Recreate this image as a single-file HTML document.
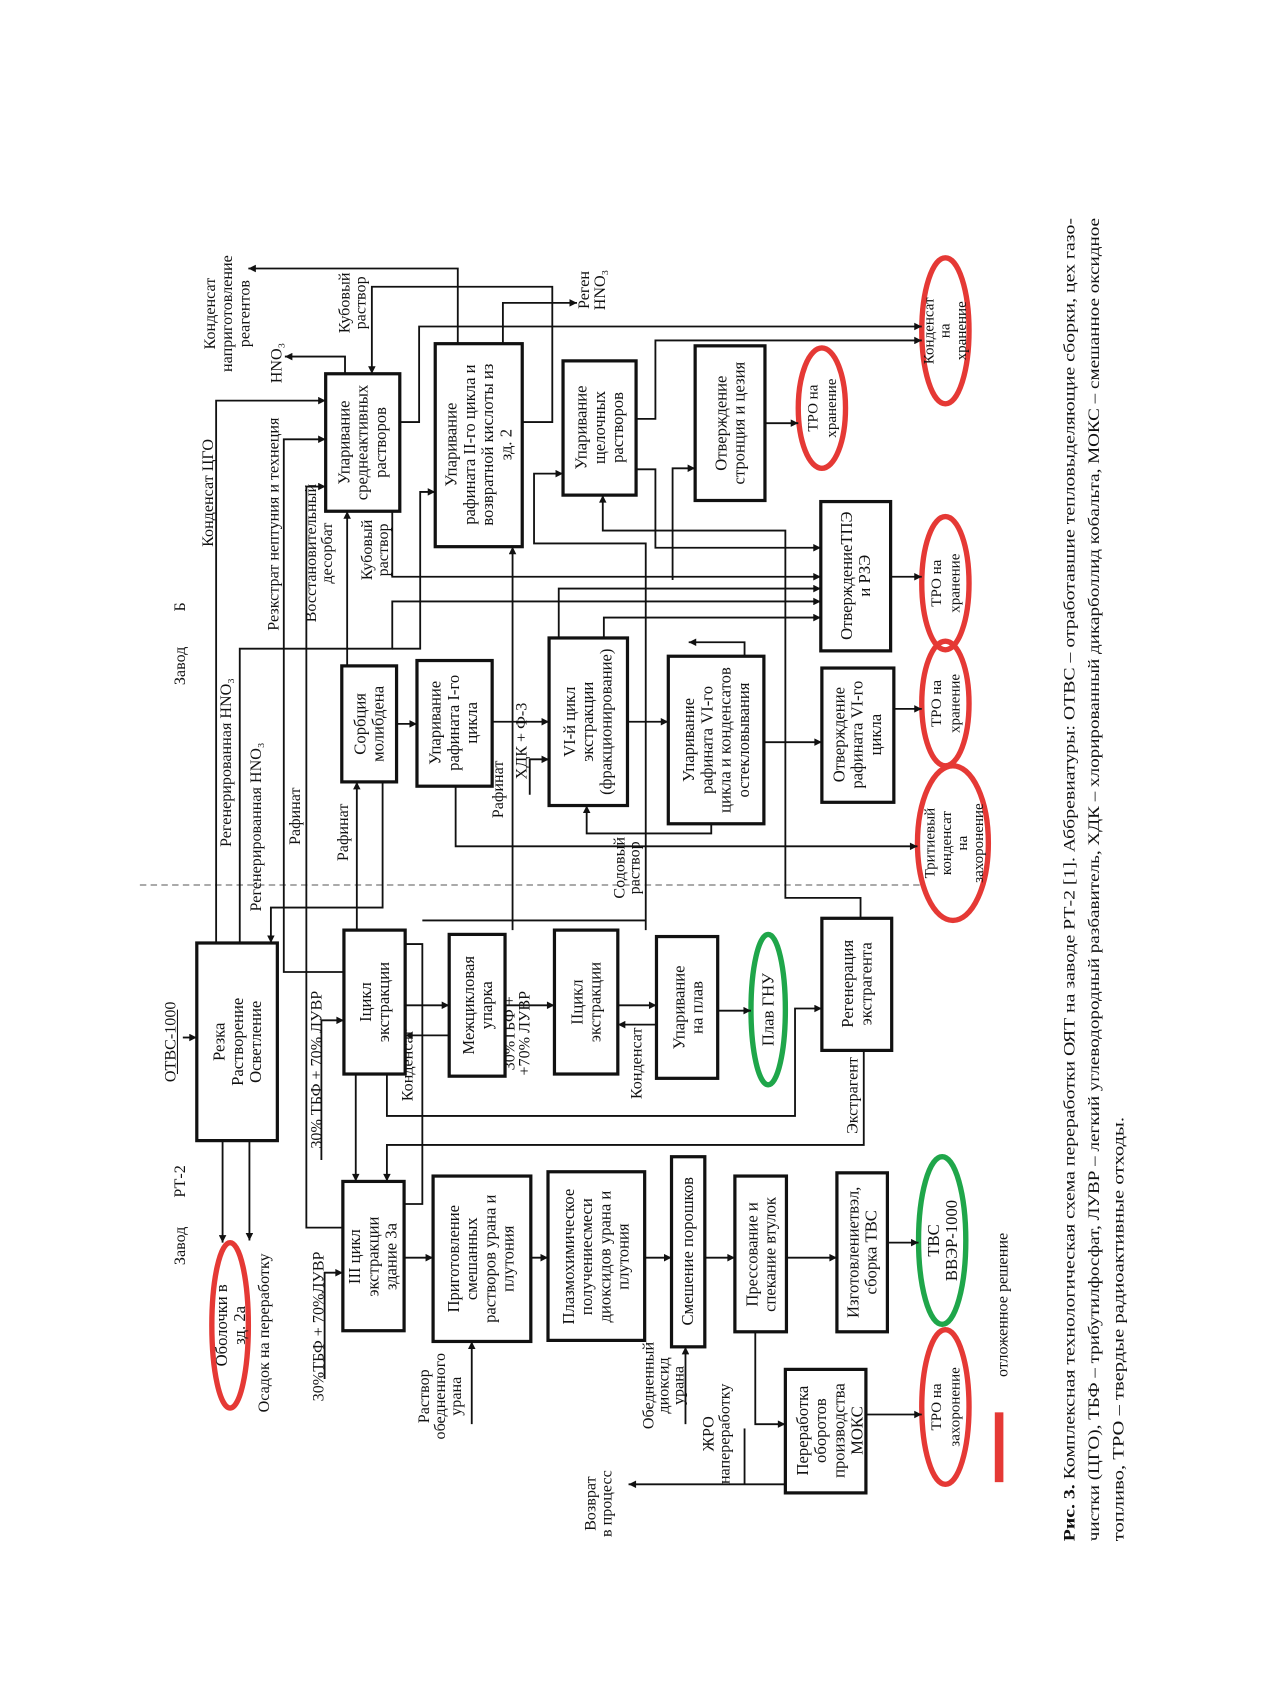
<!DOCTYPE html>
<html><head><meta charset="utf-8">
<style>
html,body{margin:0;padding:0;background:#fff;}
svg{display:block;}
text{font-family:"Liberation Serif","DejaVu Serif",serif;fill:#111;}
</style></head>
<body>
<svg width="1270" height="1683" viewBox="0 0 1182 1567" xmlns="http://www.w3.org/2000/svg">
<defs>
<marker id="a" viewBox="0 0 10 10" refX="10" refY="5" markerWidth="9" markerHeight="7" markerUnits="userSpaceOnUse" orient="auto">
<path d="M0,0 L10,5 L0,10 z" fill="#111"/>
</marker>
</defs>
<rect width="1182" height="1567" fill="#fff"/>

<path d="M130 824 H860" stroke="#555" stroke-width="1" stroke-dasharray="6,4" fill="none"/>

<g fill="none" stroke="#111" stroke-width="3">
<rect x="183" y="878" width="75" height="184"/>
<rect x="320" y="866" width="57" height="134"/>
<rect x="418" y="870" width="52" height="132"/>
<rect x="516" y="866" width="59" height="134"/>
<rect x="611" y="872" width="57" height="132"/>
<rect x="765" y="855" width="65" height="123"/>
<rect x="319" y="1100" width="57" height="139"/>
<rect x="403" y="1095" width="91" height="154"/>
<rect x="510" y="1091" width="90" height="157"/>
<rect x="625" y="1077" width="31" height="177"/>
<rect x="684" y="1095" width="48" height="145"/>
<rect x="779" y="1092" width="47" height="148"/>
<rect x="731" y="1275" width="75" height="115"/>
<rect x="318" y="620" width="51" height="108"/>
<rect x="388" y="615" width="70" height="117"/>
<rect x="511" y="594" width="73" height="156"/>
<rect x="622" y="611" width="89" height="156"/>
<rect x="765" y="622" width="67" height="125"/>
<rect x="764" y="467" width="65" height="139"/>
<rect x="303" y="348" width="69" height="128"/>
<rect x="405" y="320" width="81" height="189"/>
<rect x="524" y="336" width="68" height="125"/>
<rect x="647" y="322" width="65" height="144"/>
</g>

<g fill="none" stroke-width="5">
<ellipse cx="715" cy="940" rx="16" ry="70" stroke="#1fa64a"/>
<ellipse cx="877" cy="1155" rx="22" ry="78" stroke="#1fa64a"/>
<ellipse cx="880" cy="1310" rx="22" ry="72" stroke="#e53935"/>
<ellipse cx="214" cy="1234" rx="17" ry="77" stroke="#e53935"/>
<ellipse cx="765" cy="380" rx="22" ry="56" stroke="#e53935"/>
<ellipse cx="880" cy="308" rx="22" ry="68" stroke="#e53935"/>
<ellipse cx="880" cy="543" rx="22" ry="62" stroke="#e53935"/>
<ellipse cx="880" cy="655" rx="22" ry="58" stroke="#e53935"/>
<ellipse cx="887" cy="785" rx="33" ry="72" stroke="#e53935"/>
</g>
<rect x="926" y="1315" width="8" height="65" fill="#e53935"/>

<g fill="none" stroke="#111" stroke-width="1.7" marker-end="url(#a)">
<path d="M170 966 H183"/>
<path d="M207 1062 V1157"/>
<path d="M232 1062 V1155"/>
<path d="M201 878 V373 H303"/>
<path d="M223 878 V604 H365 V560 H764"/>
<path d="M356 728 V845 H252 V878"/>
<path d="M320 905 H264 V409 H303"/>
<path d="M320 1143 H285 V453 H303"/>
<path d="M299 1080 V950 H320"/>
<path d="M302 1284 V1185 H319"/>
<path d="M332 866 V728"/>
<path d="M323 620 V476"/>
<path d="M377 936 H418"/>
<path d="M418 964 H377"/>
<path d="M470 936 H516"/>
<path d="M575 936 H611"/>
<path d="M611 954 H575"/>
<path d="M668 941 H699"/>
<path d="M360 1000 V1039 H740 V939 H765"/>
<path d="M331 1000 V1100"/>
<path d="M804 978 V1066 H360 V1100"/>
<path d="M801 855 V836 H731 V494 H561 V461"/>
<path d="M601 866 V506 H497 V441 H524"/>
<path d="M477 866 V509"/>
<path d="M376 1171 H403"/>
<path d="M494 1171 H510"/>
<path d="M600 1171 H625"/>
<path d="M656 1171 H684"/>
<path d="M732 1171 H779"/>
<path d="M826 1157 H855"/>
<path d="M439 1326 V1249"/>
<path d="M638 1326 V1254"/>
<path d="M703 1240 V1326 H731"/>
<path d="M806 1317 H858"/>
<path d="M731 1382 H585"/>
<path d="M369 674 H388"/>
<path d="M458 672 H511"/>
<path d="M584 672 H622"/>
<path d="M711 691 H765"/>
<path d="M832 660 H858"/>
<path d="M829 537 H858"/>
<path d="M712 394 H743"/>
<path d="M493 740 V707 H511"/>
<path d="M520 594 V548 H764"/>
<path d="M662 767 V776 H546 V750"/>
<path d="M424 732 V788 H854"/>
<path d="M693 611 V598 H641"/>
<path d="M372 393 H390 V304 H858"/>
<path d="M592 390 H610 V317 H858"/>
<path d="M426 320 V250 H231"/>
<path d="M487 393 H514 V267 H346 V348"/>
<path d="M321 348 V332 H265"/>
<path d="M468 320 V282 H537"/>
<path d="M365 604 H391 V458 H405"/>
<path d="M365 476 V537 H764"/>
<path d="M592 437 H610 V510 H764"/>
<path d="M562 594 V575 H764"/>
<path d="M626 540 V436 H647"/>
</g>
<g fill="none" stroke="#111" stroke-width="1.7">
<path d="M377 879 H393 V1121 H376"/>
<path d="M393 857 H601"/>
<path d="M165 940 V1000" stroke-width="1"/>
<path d="M693 1330 V1382"/>
</g>

<g font-size="15.5" text-anchor="middle">
<text transform="translate(209,970) rotate(-90)">Резка</text>
<text transform="translate(226,970) rotate(-90)">Растворение</text>
<text transform="translate(243,970) rotate(-90)">Осветление</text>
<text transform="translate(345,933) rotate(-90)">Iцикл</text>
<text transform="translate(362,933) rotate(-90)">экстракции</text>
<text transform="translate(441,936) rotate(-90)">Межцикловая</text>
<text transform="translate(458,936) rotate(-90)">упарка</text>
<text transform="translate(542,933) rotate(-90)">IIцикл</text>
<text transform="translate(559,933) rotate(-90)">экстракции</text>
<text transform="translate(637,938) rotate(-90)">Упаривание</text>
<text transform="translate(654,938) rotate(-90)">на плав</text>
<text transform="translate(720,940) rotate(-90)">Плав ГНУ</text>
<text transform="translate(794,916) rotate(-90)">Регенерация</text>
<text transform="translate(811,916) rotate(-90)">экстрагента</text>
<text transform="translate(335,1170) rotate(-90)">III цикл</text>
<text transform="translate(352,1170) rotate(-90)">экстракции</text>
<text transform="translate(369,1170) rotate(-90)">здание 3а</text>
<text transform="translate(427,1172) rotate(-90)">Приготовление</text>
<text transform="translate(444,1172) rotate(-90)">смешанных</text>
<text transform="translate(461,1172) rotate(-90)">растворов урана и</text>
<text transform="translate(478,1172) rotate(-90)">плутония</text>
<text transform="translate(534,1170) rotate(-90)">Плазмохимическое</text>
<text transform="translate(551,1170) rotate(-90)">получениесмеси</text>
<text transform="translate(568,1170) rotate(-90)">диоксидов урана и</text>
<text transform="translate(585,1170) rotate(-90)">плутония</text>
<text transform="translate(645,1165) rotate(-90)">Смешение порошков</text>
<text transform="translate(705,1168) rotate(-90)">Прессование и</text>
<text transform="translate(722,1168) rotate(-90)">спекание втулок</text>
<text transform="translate(799,1166) rotate(-90)">Изготовлениетвэл,</text>
<text transform="translate(816,1166) rotate(-90)">сборка ТВС</text>
<text transform="translate(874,1155) rotate(-90)">ТВС</text>
<text transform="translate(891,1155) rotate(-90)">ВВЭР-1000</text>
<text transform="translate(752,1332) rotate(-90)">Переработка</text>
<text transform="translate(769,1332) rotate(-90)">оборотов</text>
<text transform="translate(786,1332) rotate(-90)">производства</text>
<text transform="translate(803,1332) rotate(-90)">МОКС</text>
<text transform="translate(211,1234) rotate(-90)">Оболочки в</text>
<text transform="translate(228,1234) rotate(-90)">зд. 2а</text>
<text transform="translate(340,674) rotate(-90)">Сорбция</text>
<text transform="translate(357,674) rotate(-90)">молибдена</text>
<text transform="translate(410,673) rotate(-90)">Упаривание</text>
<text transform="translate(427,673) rotate(-90)">рафината I-го</text>
<text transform="translate(444,673) rotate(-90)">цикла</text>
<text transform="translate(535,672) rotate(-90)">VI-й цикл</text>
<text transform="translate(552,672) rotate(-90)">экстракции</text>
<text transform="translate(569,672) rotate(-90)">(фракционирование)</text>
<text transform="translate(646,689) rotate(-90)">Упаривание</text>
<text transform="translate(663,689) rotate(-90)">рафината VI-го</text>
<text transform="translate(680,689) rotate(-90)">цикла и конденсатов</text>
<text transform="translate(697,689) rotate(-90)">остекловывания</text>
<text transform="translate(786,684) rotate(-90)">Отверждение</text>
<text transform="translate(803,684) rotate(-90)">рафината VI-го</text>
<text transform="translate(820,684) rotate(-90)">цикла</text>
<text transform="translate(793,536) rotate(-90)">ОтверждениеТПЭ</text>
<text transform="translate(810,536) rotate(-90)">и РЗЭ</text>
<text transform="translate(325,412) rotate(-90)">Упаривание</text>
<text transform="translate(342,412) rotate(-90)">среднеактивных</text>
<text transform="translate(359,412) rotate(-90)">растворов</text>
<text transform="translate(425,414) rotate(-90)">Упаривание</text>
<text transform="translate(442,414) rotate(-90)">рафината II-го цикла и</text>
<text transform="translate(459,414) rotate(-90)">возвратной кислоты из</text>
<text transform="translate(476,414) rotate(-90)">зд. 2</text>
<text transform="translate(546,398) rotate(-90)">Упаривание</text>
<text transform="translate(563,398) rotate(-90)">щелочных</text>
<text transform="translate(580,398) rotate(-90)">растворов</text>
<text transform="translate(676,394) rotate(-90)">Отверждение</text>
<text transform="translate(693,394) rotate(-90)">стронция и цезия</text>
</g>
<g font-size="14" text-anchor="middle">
<text transform="translate(876,1310) rotate(-90)">ТРО на</text>
<text transform="translate(893,1310) rotate(-90)">захоронение</text>
<text transform="translate(761,380) rotate(-90)">ТРО на</text>
<text transform="translate(778,380) rotate(-90)">хранение</text>
<text transform="translate(869,308) rotate(-90)">Конденсат</text>
<text transform="translate(884,308) rotate(-90)">на</text>
<text transform="translate(899,308) rotate(-90)">хранение</text>
<text transform="translate(876,543) rotate(-90)">ТРО на</text>
<text transform="translate(893,543) rotate(-90)">хранение</text>
<text transform="translate(876,655) rotate(-90)">ТРО на</text>
<text transform="translate(893,655) rotate(-90)">хранение</text>
<text transform="translate(870,785) rotate(-90)">Тритиевый</text>
<text transform="translate(885,785) rotate(-90)">конденсат</text>
<text transform="translate(900,785) rotate(-90)">на</text>
<text transform="translate(915,785) rotate(-90)">захоронение</text>
</g>

<g font-size="15" text-anchor="middle">
<text transform="translate(172,1160) rotate(-90)">Завод</text>
<text transform="translate(172,1100) rotate(-90)">РТ-2</text>
<text transform="translate(172,620) rotate(-90)">Завод</text>
<text transform="translate(172,565) rotate(-90)">Б</text>
<text transform="translate(163,970) rotate(-90)">ОТВС-1000</text>
<text transform="translate(250,1241) rotate(-90)">Осадок на переработку</text>
<text transform="translate(301,1235) rotate(-90)">30%ТБФ + 70%ЛУВР</text>
<text transform="translate(299,996) rotate(-90)">30% ТБФ + 70% ЛУВР</text>
<text transform="translate(399,1300) rotate(-90)">Раствор</text>
<text transform="translate(414,1300) rotate(-90)">обедненного</text>
<text transform="translate(429,1300) rotate(-90)">урана</text>
<text transform="translate(554,1400) rotate(-90)">Возврат</text>
<text transform="translate(569,1400) rotate(-90)">в процесс</text>
<text transform="translate(608,1290) rotate(-90)">Обедненный</text>
<text transform="translate(622,1290) rotate(-90)">диоксид</text>
<text transform="translate(636,1290) rotate(-90)">урана</text>
<text transform="translate(664,1335) rotate(-90)">ЖРО</text>
<text transform="translate(679,1335) rotate(-90)">напереработку</text>
<text transform="translate(938,1215) rotate(-90)">отложенное решение</text>
<text transform="translate(384,992) rotate(-90)">Конденсат</text>
<text transform="translate(479,962) rotate(-90)">30%ТБФ +</text>
<text transform="translate(493,962) rotate(-90)">+70% ЛУВР</text>
<text transform="translate(597,990) rotate(-90)">Конденсат</text>
<text transform="translate(798,1020) rotate(-90)">Экстрагент</text>
<text transform="translate(581,808) rotate(-90)">Содовый</text>
<text transform="translate(595,808) rotate(-90)">раствор</text>
<text transform="translate(468,735) rotate(-90)">Рафинат</text>
<text transform="translate(490,690) rotate(-90)">ХДК + Ф-3</text>
<text transform="translate(324,775) rotate(-90)">Рафинат</text>
<text transform="translate(279,760) rotate(-90)">Рафинат</text>
<text transform="translate(215,710) rotate(-90)">Регенерированная HNO₃</text>
<text transform="translate(243,770) rotate(-90)">Регенерированная  HNO₃</text>
<text transform="translate(259,488) rotate(-90)">Резкстрат нептуния и технеция</text>
<text transform="translate(294,515) rotate(-90)">Восстановительный</text>
<text transform="translate(309,515) rotate(-90)">десорбат</text>
<text transform="translate(346,512) rotate(-90)">Кубовый</text>
<text transform="translate(361,512) rotate(-90)">раствор</text>
<text transform="translate(198,459) rotate(-90)">Конденсат ЦГО</text>
<text transform="translate(262,338) rotate(-90)">HNO₃</text>
<text transform="translate(200,292) rotate(-90)">Конденсат</text>
<text transform="translate(216,292) rotate(-90)">наприготовление</text>
<text transform="translate(232,292) rotate(-90)">реагентов</text>
<text transform="translate(325,282) rotate(-90)">Кубовый</text>
<text transform="translate(340,282) rotate(-90)">раствор</text>
<text transform="translate(548,270) rotate(-90)">Реген</text>
<text transform="translate(563,270) rotate(-90)">HNO₃</text>
</g>

<g font-size="14.5">
<text transform="translate(1000,1435) rotate(-90)" textLength="1232" lengthAdjust="spacingAndGlyphs"><tspan font-weight="bold">Рис. 3.</tspan> Комплексная технологическая схема переработки ОЯТ на заводе РТ-2 [1]. Аббревиатуры: ОТВС – отработавшие тепловыделяющие сборки, цех газо-</text>
<text transform="translate(1023,1435) rotate(-90)" textLength="1232" lengthAdjust="spacingAndGlyphs">чистки (ЦГО), ТБФ – трибутилфосфат, ЛУВР – легкий углеводородный разбавитель, ХДК – хлорированный дикарболлид кобальта, МОКС – смешанное оксидное</text>
<text transform="translate(1046,1435) rotate(-90)" textLength="395" lengthAdjust="spacingAndGlyphs">топливо, ТРО – твердые радиоактивные отходы.</text>
</g>
</svg>
</body></html>
